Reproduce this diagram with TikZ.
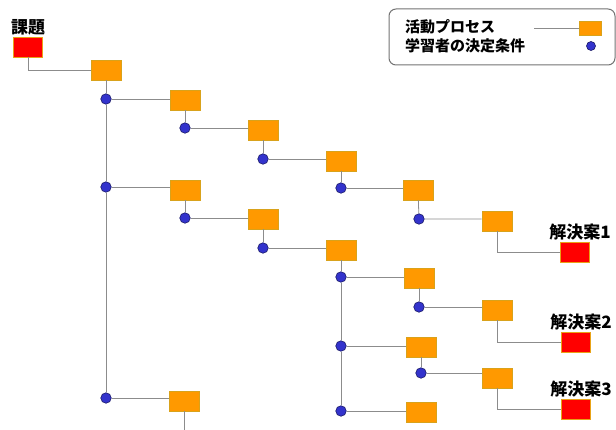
\documentclass[tikz,border=0pt]{standalone}
\usepackage{fontspec}
\setmainfont{Noto Sans CJK JP}
\usetikzlibrary{positioning}

\definecolor{procfill}{HTML}{FF9900}
\definecolor{procedge}{HTML}{D9A21B}
\definecolor{goalfill}{HTML}{FF0000}
\definecolor{goaledge}{HTML}{E8A317}
\definecolor{dotfill}{HTML}{3333CC}
\definecolor{dotedge}{HTML}{1A1A66}

\begin{document}
\begin{tikzpicture}[
        x = 1pt,
        y = -1pt,
        proc/.style={
          draw = procedge, fill = procfill, line width = 0.6pt,
          minimum width = 30pt, minimum height = 20pt, inner sep = 0pt,
        },
        goal/.style={
          draw = goaledge, fill = goalfill, line width = 0.6pt,
          minimum width = 29pt, minimum height = 20pt, inner sep = 0pt,
        },
        cond/.style={
          circle, draw = dotedge, fill = dotfill, line width = 0.6pt,
          minimum size = 10.5pt, inner sep = 0pt,
        },
        wire/.style={
          draw = black!45, line width = 0.8pt,
        },
        tag/.style={
          font = \fontsize{17}{19}\selectfont\bfseries, inner sep = 1pt,
        },
        keytext/.style={
          font = \fontsize{15}{17}\selectfont\bfseries, anchor = west, inner sep = 0pt,
        },
        ]
        \useasboundingbox (0,0) rectangle (616,430);

        % problem and solutions
        \node [goal] (t) at (28,47) {};
        \node [tag, above=0pt of t] (tt) {課題};
        \node [goal] (s1) at (575,252) {};
        \node [tag, above=0pt of s1, xshift=5pt] (st1) {解決案1};
        \node [goal] (s2) at (576,342) {};
        \node [tag, above=0pt of s2, xshift=5pt] (st2) {解決案2};
        \node [goal] (s3) at (576,409) {};
        \node [tag, above=0pt of s3, xshift=5pt] (st3) {解決案3};

        % activity processes
        \node [proc] (pa) at (106,70) {};
        \node [proc] (pb) at (185,100) {};
        \node [proc] (pc) at (263,130) {};
        \node [proc] (pd) at (341,161) {};
        \node [proc] (pe) at (418,190) {};
        \node [proc] (pf) at (497,221) {};
        \node [proc] (pg) at (185,190) {};
        \node [proc] (ph) at (263,219) {};
        \node [proc] (pi) at (341,250) {};
        \node [proc] (pj) at (419,278) {};
        \node [proc] (pk) at (497,310) {};
        \node [proc] (pl) at (421,347) {};
        \node [proc] (pm) at (497,378) {};
        \node [proc] (pn) at (421,412) {};
        \node [proc] (po) at (184,401) {};
        \coordinate (oend) at (184,432);

        % decision conditions
        \node [cond] (ca) at (106,99) {};
        \node [cond] (cb) at (185,128) {};
        \node [cond] (cc) at (263,159) {};
        \node [cond] (cd) at (341,188) {};
        \node [cond] (ce) at (419,219) {};
        \node [cond] (cf) at (106,187) {};
        \node [cond] (cg) at (185,218) {};
        \node [cond] (ch) at (263,248) {};
        \node [cond] (ci) at (341,277) {};
        \node [cond] (cj) at (419,307) {};
        \node [cond] (ck) at (341,346) {};
        \node [cond] (cl) at (421,373) {};
        \node [cond] (cm) at (341,411) {};
        \node [cond] (cn) at (106,398) {};

        % connectors
        \path [wire] (t.south) |- (pa.west);
        \path [wire] (pa) -- (ca) -- (cf) -- (cn);
        \path [wire] (ca) -- (ca -| pb.west);
        \path [wire] (pb) -- (cb) -- (cb -| pc.west);
        \path [wire] (pc) -- (cc) -- (cc -| pd.west);
        \path [wire] (pd) -- (cd) -- (cd -| pe.west);
        \path [wire] (pe) -- (ce) -- (ce -| pf.west);
        \path [wire] (pf.south) |- (s1.west);
        \path [wire] (cf) -- (cf -| pg.west);
        \path [wire] (pg) -- (cg) -- (cg -| ph.west);
        \path [wire] (ph) -- (ch) -- (ch -| pi.west);
        \path [wire] (pi) -- (ci) -- (ck) -- (cm);
        \path [wire] (ci) -- (ci -| pj.west);
        \path [wire] (pj) -- (cj) -- (cj -| pk.west);
        \path [wire] (pk.south) |- (s2.west);
        \path [wire] (ck) -- (ck -| pl.west);
        \path [wire] (pl) -- (cl) -- (cl -| pm.west);
        \path [wire] (pm.south) |- (s3.west);
        \path [wire] (cm) -- (cm -| pn.west);
        \path [wire] (cn) -- (cn -| po.west);
        \path [wire] (po) -- (oend);

        % legend
        \draw [black!55, line width = 1pt, rounded corners = 7pt, fill = white]
          (389,9) rectangle (615,65);
        \node [keytext] (kp) at (405,27) {活動プロセス};
        \node [keytext] (kc) at (405,46) {学習者の決定条件};
        \node [proc, minimum width = 22pt, minimum height = 14pt] (kbox) at (590,28) {};
        \coordinate (kline) at (534,28);
        \path [wire] (kline) -- (kbox.west);
        \node [cond, minimum size = 9pt] (kdot) at (591,46) {};
      \end{tikzpicture}
\end{document}
